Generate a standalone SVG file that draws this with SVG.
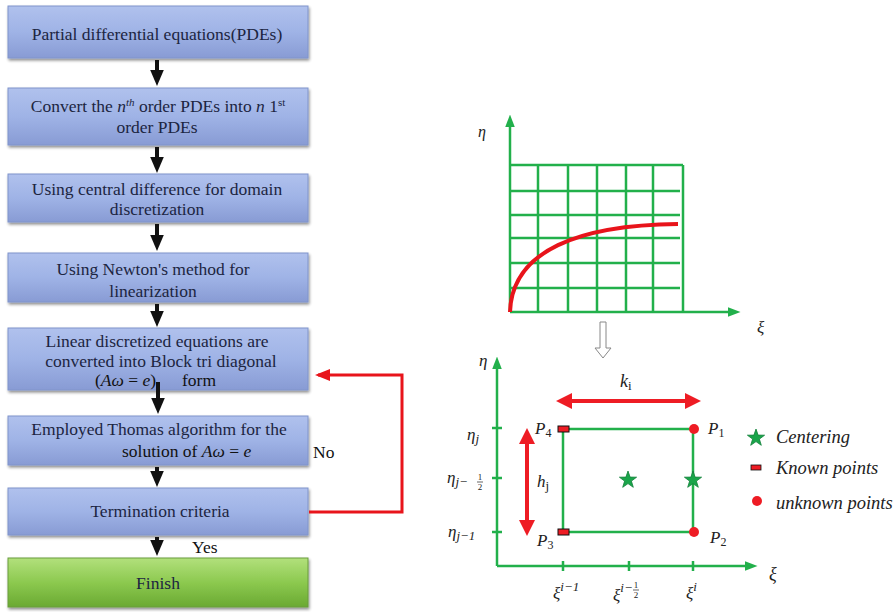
<svg xmlns="http://www.w3.org/2000/svg" width="895" height="612" viewBox="0 0 895 612">
<defs>
  <linearGradient id="gBlue" x1="0" y1="0" x2="0" y2="1">
    <stop offset="0" stop-color="#b0c1ed"/>
    <stop offset="0.5" stop-color="#9fb3e6"/>
    <stop offset="1" stop-color="#889bd4"/>
  </linearGradient>
  <linearGradient id="gGreen" x1="0" y1="0" x2="0" y2="1">
    <stop offset="0" stop-color="#b2e07c"/>
    <stop offset="0.5" stop-color="#8cc94f"/>
    <stop offset="1" stop-color="#6aa932"/>
  </linearGradient>
  <filter id="sh" x="-5%" y="-10%" width="110%" height="130%">
    <feGaussianBlur in="SourceAlpha" stdDeviation="1.5"/>
    <feOffset dx="1" dy="2" result="o"/>
    <feComponentTransfer><feFuncA type="linear" slope="0.45"/></feComponentTransfer>
    <feMerge><feMergeNode/><feMergeNode in="SourceGraphic"/></feMerge>
  </filter>
  <marker id="blk" markerWidth="4" markerHeight="4" refX="2" refY="2" orient="auto" markerUnits="strokeWidth">
    <path d="M0,0.3 L4,2 L0,3.7 Z" fill="#111"/>
  </marker>
  <marker id="red" markerWidth="5" markerHeight="5" refX="4" refY="2.5" orient="auto" markerUnits="strokeWidth">
    <path d="M0,0.5 L5,2.5 L0,4.5 Z" fill="#e8141b"/>
  </marker>
  <marker id="grn" markerWidth="5" markerHeight="5" refX="2" refY="2.5" orient="auto" markerUnits="strokeWidth">
    <path d="M0,0.6 L5,2.5 L0,4.4 Z" fill="#22b04b"/>
  </marker>
  <marker id="redB" markerWidth="4" markerHeight="4" refX="2.5" refY="2" orient="auto-start-reverse" markerUnits="strokeWidth">
    <path d="M0,0 L4,2 L0,4 Z" fill="#ee1c24"/>
  </marker>
  <path id="star" d="M0,-9 L2.1,-2.9 L8.6,-2.8 L3.4,1.1 L5.3,7.3 L0,3.6 L-5.3,7.3 L-3.4,1.1 L-8.6,-2.8 L-2.1,-2.9 Z"/>
  <style>
    .box{fill:url(#gBlue);stroke:#8094cb;stroke-width:1;filter:url(#sh)}
    .fin{fill:url(#gGreen);stroke:#6a9d3c;stroke-width:1;filter:url(#sh)}
    .t{font-family:"Liberation Serif","Times New Roman",serif;font-size:17.5px;fill:#1c2541;text-anchor:middle}
    .tl{font-family:"Liberation Serif","Times New Roman",serif;font-size:17.5px;fill:#111}
    .m{font-family:"Liberation Serif","DejaVu Serif",serif;font-style:italic;fill:#222}
    .flow{stroke:#111;stroke-width:4;fill:none;marker-end:url(#blk)}
    .g{stroke:#22b04b;stroke-width:2.5;fill:none}
  </style>
</defs>

<rect width="895" height="612" fill="#fff"/>

<!-- Flowchart nodes -->
<g id="n1"><rect class="box" x="8" y="6" width="300" height="52"/>
  <text class="t" x="157" y="40">Partial differential equations(PDEs)</text></g>
<g id="n2"><rect class="box" x="8" y="88" width="300" height="57"/>
  <text class="t" x="158" y="112">Convert the <tspan font-style="italic">n</tspan><tspan font-size="11" font-style="italic" dy="-6">th</tspan><tspan dy="6"> order PDEs into </tspan><tspan font-style="italic">n</tspan> 1<tspan font-size="11" dy="-6">st</tspan></text>
  <text class="t" x="157" y="133">order PDEs</text></g>
<g id="n3"><rect class="box" x="8" y="174" width="300" height="48"/>
  <text class="t" x="157" y="195">Using  central difference for domain</text>
  <text class="t" x="157" y="215">discretization</text></g>
<g id="n4"><rect class="box" x="8" y="253" width="300" height="49"/>
  <text class="t" x="153" y="275" font-size="18.5">Using  Newton's method for</text>
  <text class="t" x="153" y="297" font-size="18.5">linearization</text></g>
<g id="n5"><rect class="box" x="8" y="328" width="300" height="62"/>
  <text class="t" x="157" y="347">Linear discretized equations are</text>
  <text class="t" x="161" y="367">converted into  Block tri diagonal</text>
  <text class="tl" x="95" y="386">(<tspan font-style="italic">Aω</tspan> = <tspan font-style="italic">e</tspan>)</text>
  <text class="tl" x="182" y="386" fill="#1c2541">form</text></g>
<g id="n6"><rect class="box" x="8" y="416" width="300" height="49"/>
  <text class="t" x="159" y="435">Employed Thomas algorithm for the</text>
  <text class="tl" x="122" y="457" fill="#1c2541">solution of <tspan font-style="italic">Aω</tspan> = <tspan font-style="italic">e</tspan></text></g>
<g id="n7"><rect class="box" x="8" y="488" width="300" height="47"/>
  <text class="t" x="160" y="517" font-size="18.5">Termination  criteria</text></g>
<g id="n8"><rect class="fin" x="8" y="558" width="300" height="49"/>
  <text class="t" x="158" y="589" fill="#1e3a10">Finish</text></g>

<!-- Flowchart connectors -->
<g id="connectors">
  <line class="flow" x1="157" y1="60" x2="157" y2="78"/>
  <line class="flow" x1="157" y1="147" x2="157" y2="165"/>
  <line class="flow" x1="157" y1="224" x2="157" y2="243"/>
  <line class="flow" x1="157" y1="304" x2="157" y2="319"/>
  <line class="flow" x1="158" y1="382" x2="158" y2="406"/>
  <line class="flow" x1="157" y1="467" x2="157" y2="479"/>
  <line class="flow" x1="157" y1="537" x2="157" y2="548"/>
  <polyline points="309,512 402,512 402,375 318,375" stroke="#e8141b" stroke-width="3" fill="none" marker-end="url(#red)"/>
  <text class="tl" x="192" y="553">Yes</text>
  <text class="tl" x="313" y="458" font-size="16">No</text>
</g>

<!-- Top grid diagram -->
<g id="grid-diagram">
  <line class="g" x1="510" y1="312" x2="510" y2="122" marker-end="url(#grn)"/>
  <line class="g" x1="510" y1="312" x2="733" y2="312" marker-end="url(#grn)"/>
  <path class="g" d="M510,165 H683 M510,191 H680 M510,215 H680 M510,238 H680 M510,263 H680 M510,288 H680
    M538,165 V312 M568,165 V312 M597,165 V312 M626,165 V312 M653,165 V312 M683,165 V312"/>
  <path d="M510,312 C512,250 580,225 678,224" stroke="#e8141b" stroke-width="4" fill="none"/>
  <text class="m" x="478" y="137" font-size="16">η</text>
  <text class="m" x="757" y="333" font-size="17">ξ</text>
</g>

<!-- Hollow arrow -->
<g id="down-arrow">
  <path d="M600,322 H606 V348 H611 L603,358 L595,348 H600 Z" fill="#fff" stroke="#888" stroke-width="1"/>
</g>

<!-- Bottom cell diagram -->
<g id="cell-diagram">
  <line class="g" x1="497" y1="566" x2="497" y2="364" marker-end="url(#grn)"/>
  <line class="g" x1="497" y1="566" x2="750" y2="566" marker-end="url(#grn)"/>
  <path class="g" d="M492,428 H502 M492,478 H502 M492,532 H502 M563,561 V571 M629,561 V571 M693,561 V571"/>
  <path class="g" d="M563,429 H693 V532 H563 Z"/>
  <line x1="562" y1="401" x2="695" y2="401" stroke="#ee1c24" stroke-width="4" marker-start="url(#redB)" marker-end="url(#redB)"/>
  <line x1="527" y1="434" x2="527" y2="530" stroke="#ee1c24" stroke-width="4" marker-start="url(#redB)" marker-end="url(#redB)"/>
  <rect x="558" y="426" width="11" height="6" fill="#ee1c24" stroke="#111" stroke-width="1"/>
  <rect x="558" y="529" width="11" height="6" fill="#ee1c24" stroke="#111" stroke-width="1"/>
  <circle cx="694" cy="429" r="5" fill="#ee1c24"/>
  <circle cx="694" cy="532" r="5" fill="#ee1c24"/>
  <use href="#star" x="628" y="480" fill="#1aa54a" stroke="#12803a" stroke-width="0.8"/>
  <use href="#star" x="693" y="480" fill="#1aa54a" stroke="#12803a" stroke-width="0.8"/>

  <text class="m" x="479" y="366" font-size="17">η</text>
  <text class="m" x="467" y="440" font-size="17">η<tspan font-size="13" dy="3">j</tspan></text>
  <text class="m" x="447" y="483" font-size="17">η<tspan font-size="13" dy="3">j−</tspan></text>
  <text x="480" y="480" font-family="Liberation Serif, serif" font-size="9" fill="#222" text-anchor="middle">1</text>
  <line x1="477" y1="482" x2="483" y2="482" stroke="#222" stroke-width="0.7"/>
  <text x="480" y="490" font-family="Liberation Serif, serif" font-size="9" fill="#222" text-anchor="middle">2</text>
  <text class="m" x="448" y="537" font-size="17">η<tspan font-size="13" dy="3">j−1</tspan></text>

  <text class="m" x="620" y="387" font-size="18">k<tspan font-size="13" dy="3" font-style="normal">i</tspan></text>
  <text class="m" x="537" y="487" font-size="17">h<tspan font-size="13" dy="3" font-style="normal">j</tspan></text>
  <text class="m" x="535" y="434" font-size="17">P<tspan font-size="12" dy="3" font-style="normal">4</tspan></text>
  <text class="m" x="708" y="434" font-size="17">P<tspan font-size="12" dy="3" font-style="normal">1</tspan></text>
  <text class="m" x="537" y="546" font-size="17">P<tspan font-size="12" dy="3" font-style="normal">3</tspan></text>
  <text class="m" x="710" y="543" font-size="17">P<tspan font-size="12" dy="3" font-style="normal">2</tspan></text>

  <text class="m" x="769" y="580" font-size="18">ξ</text>
  <text class="m" x="553" y="599" font-size="17">ξ<tspan font-size="13" dy="-8">i−1</tspan></text>
  <text class="m" x="613" y="601" font-size="17">ξ<tspan font-size="13" dy="-9">i−</tspan></text>
  <text x="636" y="588" font-family="Liberation Serif, serif" font-size="9" fill="#222" text-anchor="middle">1</text>
  <line x1="633" y1="590" x2="639" y2="590" stroke="#222" stroke-width="0.7"/>
  <text x="636" y="598" font-family="Liberation Serif, serif" font-size="9" fill="#222" text-anchor="middle">2</text>
  <text class="m" x="686" y="599" font-size="17">ξ<tspan font-size="13" dy="-8">i</tspan></text>
</g>

<!-- Legend -->
<g id="legend">
  <use href="#star" x="756" y="438" fill="#1aa54a" stroke="#12803a" stroke-width="0.8"/>
  <text class="m" x="776" y="443" font-size="18.5">Centering</text>
  <rect x="751" y="465" width="10" height="5" fill="#ee1c24" stroke="#111" stroke-width="0.8"/>
  <text class="m" x="776" y="474" font-size="18.5">Known points</text>
  <circle cx="757" cy="501" r="5" fill="#ee1c24"/>
  <text class="m" x="776" y="509" font-size="18.5">unknown points</text>
</g>
</svg>
